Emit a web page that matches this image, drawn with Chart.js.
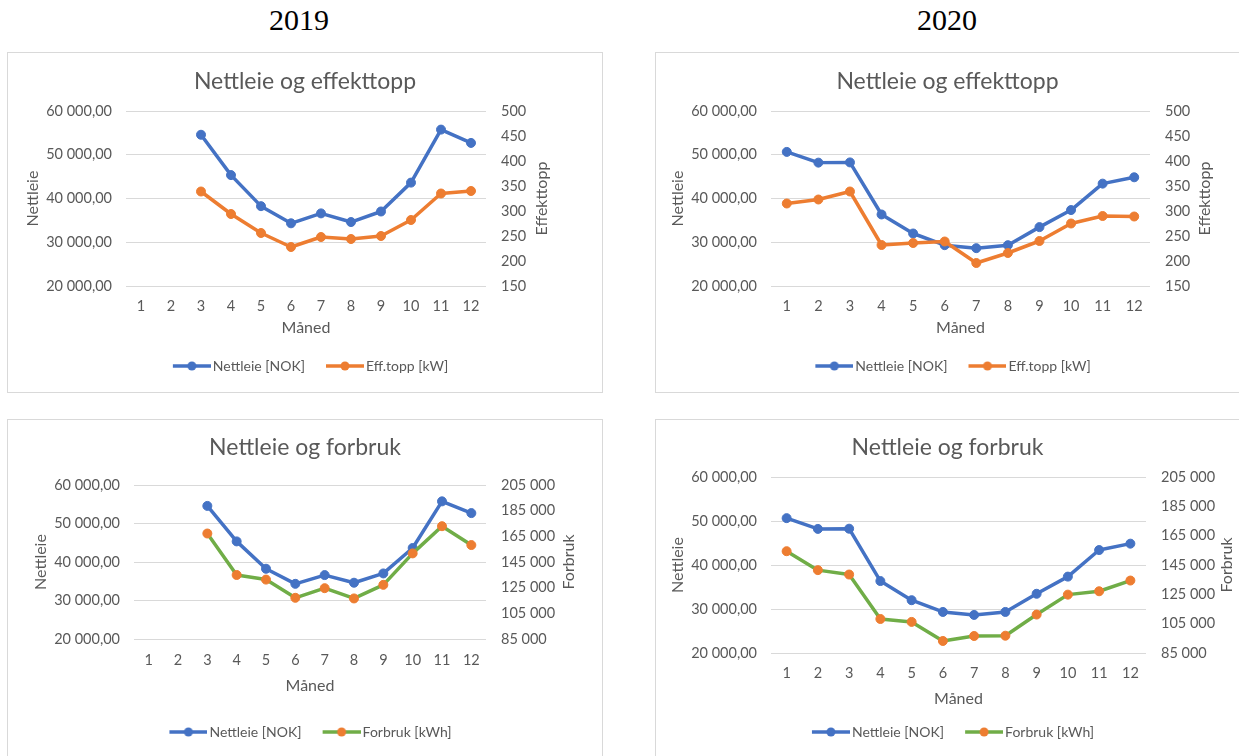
<!DOCTYPE html>
<html lang="no">
<head>
<meta charset="utf-8">
<title>Nettleie 2019 og 2020</title>
<script src="https://cdn.jsdelivr.net/npm/chart.js@4.4.0/dist/chart.umd.min.js"></script>
<style>
  html, body { margin: 0; padding: 0; background: #fff; overflow: hidden; }
  body { width: 1239px; height: 756px; position: relative; }
  .year { position: absolute; top: 5px; width: 200px; text-align: center;
          font-family: 'Liberation Serif', 'Times New Roman', serif; font-size: 30px; line-height: 30px; color: #000; }
  .panel { position: absolute; border: 1px solid #d9d9d9; background: #fff; }
  .panel canvas { display: block; }
</style>
</head>
<body>
<div class="year" style="left:199px">2019</div>
<div class="year" style="left:847px">2020</div>

<div class="panel" style="left:7px;top:52px"><canvas id="eff2019" width="594" height="339"></canvas></div>
<div class="panel" style="left:655px;top:52px"><canvas id="eff2020" width="583" height="339"></canvas></div>
<div class="panel" style="left:7px;top:419px"><canvas id="forb2019" width="594" height="336"></canvas></div>
<div class="panel" style="left:655px;top:419px"><canvas id="forb2020" width="583" height="336"></canvas></div>

<script>
// måneder på x-aksen
const months = ['1', '2', '3', '4', '5', '6', '7', '8', '9', '10', '11', '12'];

// 2019 (jan/feb mangler)
const nettleie2019 = [null, null, 54570, 45350, 38250, 34330, 36600, 34620, 37030, 43630, 55750, 52700];
const effekt2019   = [null, null, 339, 294, 256, 228, 248, 244, 250, 282, 335, 340];
const forbruk2019  = [null, null, 167200, 134900, 131300, 117100, 124600, 116600, 127200, 151700, 172900, 158200];

// 2020
const nettleie2020 = [50650, 48200, 48250, 36350, 32000, 29330, 28650, 29330, 33460, 37360, 43400, 44850];
const effekt2020   = [315, 323, 339, 232, 236, 239, 196, 216, 240, 275, 290, 289];
const forbruk2020  = [154400, 141500, 138500, 108200, 106200, 93200, 96600, 96800, 111200, 124800, 127100, 134400];

// akseverdier
const nettleieTicks = [20000, 30000, 40000, 50000, 60000];
const effektTicks   = [150, 200, 250, 300, 350, 400, 450, 500];
const forbrukTicks  = [85000, 105000, 125000, 145000, 165000, 185000, 205000];

const blue = '#4472C4';
const orange = '#ED7D31';
const green = '#70AD47';
const grey = '#595959';

Chart.defaults.font.family = 'Lato, "Open Sans", sans-serif';
Chart.defaults.color = grey;

function spaced(n) {
    return String(Math.round(n)).replace(/\B(?=(\d{3})+(?!\d))/g, ' ');
}

// liten strek med punkt til forklaringen
function legendMark(line, dot) {
    const c = document.createElement('canvas');
    c.width = 54;
    c.height = 14;
    const g = c.getContext('2d');
    g.strokeStyle = line;
    g.lineWidth = 3.5;
    g.beginPath();
    g.moveTo(16, 7);
    g.lineTo(54, 7);
    g.stroke();
    g.fillStyle = dot;
    g.beginPath();
    g.arc(35, 7, 4.5, 0, Math.PI * 2);
    g.fill();
    return c;
}

// tittel på høyre akse, lest nedenfra og opp
const rightTitle = {
    id: 'rightTitle',
    afterDraw(chart, args, opts) {
        const {ctx, chartArea} = chart;
        ctx.save();
        ctx.translate(opts.x, (chartArea.top + chartArea.bottom) / 2);
        ctx.rotate(-Math.PI / 2);
        ctx.font = '16px ' + Chart.defaults.font.family;
        ctx.fillStyle = grey;
        ctx.textAlign = 'center';
        ctx.textBaseline = 'middle';
        ctx.fillText(opts.text, 0, 0);
        ctx.restore();
    }
};

function makeChart(id, cfg, L) {
    const marks = [legendMark(blue, blue), legendMark(cfg.line2, orange)];
    return new Chart(document.getElementById(id), {
        type: 'line',
        plugins: [rightTitle],
        data: {
            labels: months,
            datasets: [{
                label: 'Nettleie [NOK]',
                data: cfg.nok,
                yAxisID: 'y',
                order: 1,
                borderColor: blue,
                backgroundColor: blue,
                pointBackgroundColor: blue,
                pointBorderColor: blue
            }, {
                label: cfg.label2,
                data: cfg.second,
                yAxisID: 'y1',
                order: 0,
                borderColor: cfg.line2,
                backgroundColor: orange,
                pointBackgroundColor: orange,
                pointBorderColor: orange
            }]
        },
        options: {
            responsive: false,
            animation: false,
            layout: { padding: { top: 0, left: 0, right: 0, bottom: L.bottomPad } },
            elements: {
                line: { borderWidth: 3.5, tension: 0, borderJoinStyle: 'round', borderCapStyle: 'round' },
                point: { radius: 4.5, borderWidth: 1, hoverRadius: 4.5 }
            },
            plugins: {
                title: {
                    display: true,
                    text: cfg.title,
                    color: grey,
                    font: { size: 23, weight: 'normal' },
                    padding: { top: L.titleTop, bottom: L.titleBottom }
                },
                legend: {
                    position: 'bottom',
                    labels: {
                        usePointStyle: true,
                        pointStyleWidth: 44,
                        padding: 10,
                        color: grey,
                        font: { size: 14 },
                        generateLabels: chart => Chart.defaults.plugins.legend.labels.generateLabels(chart)
                            .sort((a, b) => a.datasetIndex - b.datasetIndex)
                            .map(item => Object.assign(item, { pointStyle: marks[item.datasetIndex] }))
                    }
                },
                tooltip: { enabled: false },
                rightTitle: { text: cfg.axis2, x: L.rightTitleX }
            },
            scales: {
                x: {
                    offset: true,
                    grid: { display: false, drawTicks: false },
                    border: { display: false },
                    ticks: { color: grey, font: { size: 14.5 }, padding: L.xTickPad, maxRotation: 0, autoSkip: false },
                    title: {
                        display: true, text: 'Måned', color: grey, font: { size: 16 },
                        padding: { top: 0, bottom: L.xTitlePad }
                    },
                    afterFit: s => { s.height = L.xHeight; }
                },
                y: {
                    position: 'left',
                    min: nettleieTicks[0],
                    max: nettleieTicks[nettleieTicks.length - 1],
                    afterBuildTicks: s => { s.ticks = nettleieTicks.map(v => ({ value: v })); },
                    grid: { color: '#d9d9d9', lineWidth: 1, drawTicks: false },
                    border: { display: false },
                    ticks: { color: grey, font: { size: 14.5 }, padding: 14, callback: v => spaced(v) + ',00' },
                    title: {
                        display: true, text: 'Nettleie', color: grey, font: { size: 16 },
                        padding: { top: L.yTitlePad, bottom: 0 }
                    },
                    afterFit: s => { s.width = L.plotLeft; }
                },
                y1: {
                    position: 'right',
                    min: cfg.ticks2[0],
                    max: cfg.ticks2[cfg.ticks2.length - 1],
                    afterBuildTicks: s => { s.ticks = cfg.ticks2.map(v => ({ value: v })); },
                    grid: { display: false, drawTicks: false },
                    border: { display: false },
                    ticks: { color: grey, font: { size: 14.5 }, padding: 15, callback: v => spaced(v) },
                    afterFit: s => { s.width = L.w - L.plotRight; }
                }
            }
        }
    });
}

// legendehøyde 34: bunn = 339 - bottomPad - 34 - xHeight
makeChart('eff2019', {
    title: 'Nettleie og effekttopp', nok: nettleie2019, second: effekt2019, ticks2: effektTicks,
    label2: 'Eff.topp [kW]', axis2: 'Effekttopp', line2: orange
}, {
    w: 594, plotLeft: 118, plotRight: 478, titleTop: 15.2, titleBottom: 15.2,
    xHeight: 63, xTickPad: 11.3, xTitlePad: 11.4, yTitlePad: 15.4, bottomPad: 9, rightTitleX: 534
});

makeChart('eff2020', {
    title: 'Nettleie og effekttopp', nok: nettleie2020, second: effekt2020, ticks2: effektTicks,
    label2: 'Eff.topp [kW]', axis2: 'Effekttopp', line2: orange
}, {
    w: 583, plotLeft: 115, plotRight: 494, titleTop: 15.2, titleBottom: 15.2,
    xHeight: 63, xTickPad: 11.3, xTitlePad: 11.4, yTitlePad: 12.4, bottomPad: 9, rightTitleX: 549
});

makeChart('forb2019', {
    title: 'Nettleie og forbruk', nok: nettleie2019, second: forbruk2019, ticks2: forbrukTicks,
    label2: 'Forbruk [kWh]', axis2: 'Forbruk', line2: green
}, {
    w: 594, plotLeft: 126, plotRight: 478, titleTop: 14.2, titleBottom: 23.2,
    xHeight: 76, xTickPad: 12.3, xTitlePad: 19.4, yTitlePad: 23.4, bottomPad: 7, rightTitleX: 561
});

makeChart('forb2020', {
    title: 'Nettleie og forbruk', nok: nettleie2020, second: forbruk2020, ticks2: forbrukTicks,
    label2: 'Forbruk [kWh]', axis2: 'Forbruk', line2: green
}, {
    w: 583, plotLeft: 115, plotRight: 490, titleTop: 14.2, titleBottom: 15.2,
    xHeight: 62, xTickPad: 11.3, xTitlePad: 6.4, yTitlePad: 12.4, bottomPad: 7, rightTitleX: 571
});
</script>
</body>
</html>
